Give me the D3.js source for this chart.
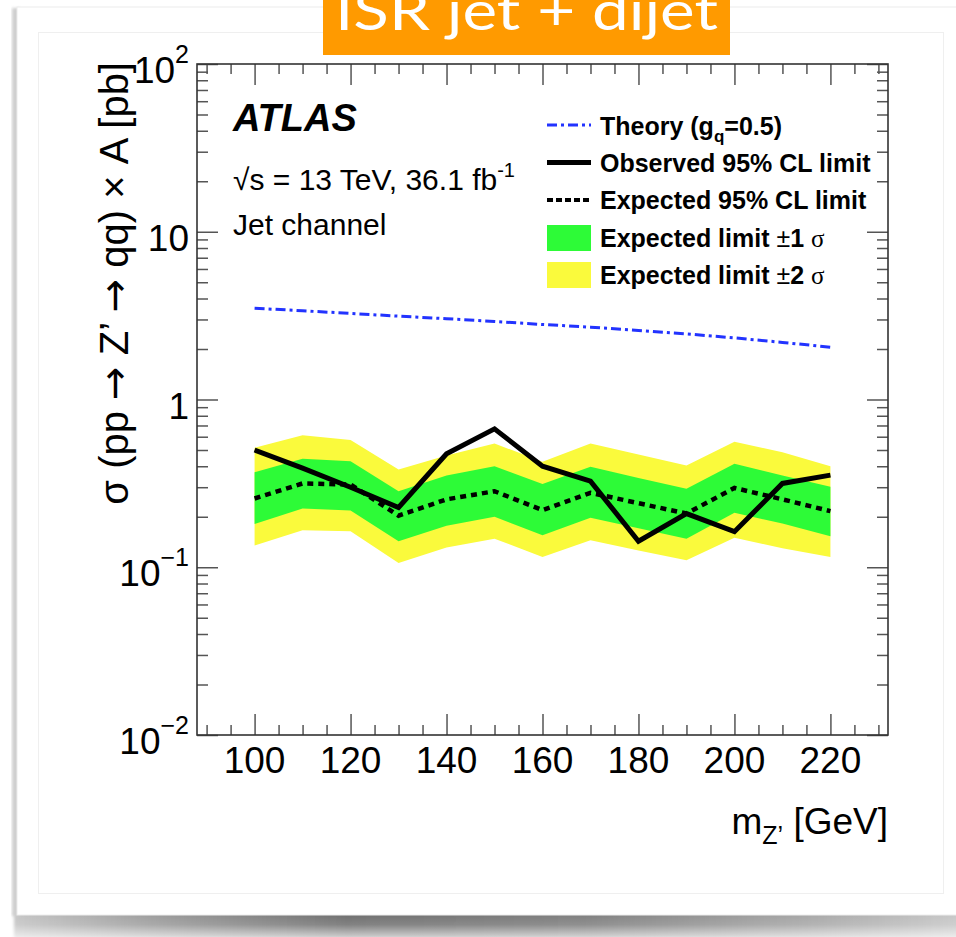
<!DOCTYPE html>
<html>
<head>
<meta charset="utf-8">
<script src="https://cdn.jsdelivr.net/npm/d3@7"></script>
<style>
  body { margin: 0; background: #fff; }
  svg { display: block; }
  text { font-family: "Liberation Sans", Arial, Helvetica, sans-serif; fill: #000; }
</style>
</head>
<body>
<svg id="chart" width="956" height="937"></svg>
<script>
// Z' mass points [GeV]
const mass = [100, 110, 120, 130, 140, 150, 160, 170, 180, 190, 200, 210, 220];
// 95% CL upper limits on sigma x A [pb]
const observed     = [0.500, 0.390, 0.300, 0.227, 0.475, 0.668, 0.400, 0.326, 0.143, 0.209, 0.163, 0.316, 0.354];
const expected     = [0.257, 0.316, 0.311, 0.203, 0.254, 0.284, 0.219, 0.278, 0.241, 0.209, 0.297, 0.254, 0.216];
const oneSigmaUp   = [0.369, 0.443, 0.429, 0.284, 0.352, 0.400, 0.314, 0.397, 0.341, 0.294, 0.414, 0.352, 0.302];
const oneSigmaDown = [0.181, 0.224, 0.218, 0.143, 0.177, 0.200, 0.155, 0.197, 0.171, 0.148, 0.211, 0.182, 0.153];
const twoSigmaUp   = [0.515, 0.613, 0.573, 0.383, 0.464, 0.547, 0.425, 0.547, 0.470, 0.404, 0.560, 0.485, 0.400];
const twoSigmaDown = [0.135, 0.166, 0.164, 0.106, 0.131, 0.148, 0.115, 0.145, 0.126, 0.110, 0.150, 0.130, 0.115];
// Theory prediction for g_q = 0.5
const theory       = [3.50, 3.38, 3.26, 3.14, 3.03, 2.92, 2.80, 2.70, 2.58, 2.46, 2.33, 2.19, 2.05];

// Axis ticks and labels
const xMajorTicks = [100, 120, 140, 160, 180, 200, 220];
const xTickLabels = ["100", "120", "140", "160", "180", "200", "220"];
const xMinorTicks = [90, 95, 105, 110, 115, 125, 130, 135, 145, 150, 155, 165, 170, 175, 185, 190, 195, 205, 210, 215, 225, 230];
const yMajorTicks = [0.01, 0.1, 1, 10, 100];
const yTickBase   = ["10", "10", "1", "10", "10"];
const yTickExp    = ["\u22122", "\u22121", "", "", "2"];

const legendLabels = ["Theory", "Observed 95% CL limit", "Expected 95% CL limit", "Expected limit ", "Expected limit "];
const legendSigma  = ["", "", "", "\u00b11", "\u00b12"];

const svg = d3.select("#chart");
const defs = svg.append("defs");

// ---- slide card with drop shadow ----
const shGrad = defs.append("linearGradient").attr("id", "shadowH").attr("x1", 0).attr("x2", 1).attr("y1", 0).attr("y2", 0);
[[0, "#c4c4c4"], [0.15, "#9a9a9a"], [0.35, "#6c6c6c"], [0.6, "#7c7c7c"], [0.85, "#a8a8a8"], [1, "#c8c8c8"]]
  .forEach(([o, c]) => shGrad.append("stop").attr("offset", o).attr("stop-color", c));
const fadeGrad = defs.append("linearGradient").attr("id", "shadowV").attr("x1", 0).attr("x2", 0).attr("y1", 0).attr("y2", 1);
[[0, "#fff", 0], [0.45, "#fff", 0.15], [1, "#fff", 0.75]]
  .forEach(([o, c, a]) => fadeGrad.append("stop").attr("offset", o).attr("stop-color", c).attr("stop-opacity", a));
defs.append("filter").attr("id", "soft").attr("x", "-5%").attr("y", "-50%").attr("width", "110%").attr("height", "200%")
  .append("feGaussianBlur").attr("stdDeviation", 1.5);

svg.append("rect").attr("x", 14).attr("y", 913).attr("width", 950).attr("height", 26)
  .attr("fill", "url(#shadowH)").attr("filter", "url(#soft)");
svg.append("rect").attr("x", 0).attr("y", 913).attr("width", 956).attr("height", 26)
  .attr("fill", "url(#shadowV)");
svg.append("rect").attr("x", 12).attr("y", 8).attr("width", 8).attr("height", 908)
  .attr("fill", "#cfcfcf").attr("filter", "url(#soft)");
svg.append("rect").attr("x", 17).attr("y", 7).attr("width", 945).attr("height", 908)
  .attr("fill", "#fff").attr("stroke", "#ececec").attr("stroke-width", 1);
svg.append("rect").attr("x", 38.5).attr("y", 32.5).attr("width", 905).attr("height", 861)
  .attr("fill", "#fff").attr("stroke", "#efefef").attr("stroke-width", 1);

// ---- plot frame and scales ----
const plot = { left: 197, right: 888, top: 64, bottom: 735 };
const x = d3.scaleLinear().domain([88, 232]).range([plot.left, plot.right]);
const y = d3.scaleLog().domain([1e-2, 1e2]).range([plot.bottom, plot.top]);

defs.append("clipPath").attr("id", "plotClip").append("rect")
  .attr("x", plot.left).attr("y", plot.top)
  .attr("width", plot.right - plot.left).attr("height", plot.bottom - plot.top);

const pts = mass.map((m, i) => ({
  m, obs: observed[i], exp: expected[i], u1: oneSigmaUp[i], d1: oneSigmaDown[i],
  u2: twoSigmaUp[i], d2: twoSigmaDown[i], th: theory[i]
}));

const data = svg.append("g").attr("clip-path", "url(#plotClip)");

// +-2 sigma and +-1 sigma bands
data.append("path").datum(pts).attr("fill", "#fafa3c")
  .attr("d", d3.area().x(d => x(d.m)).y0(d => y(d.d2)).y1(d => y(d.u2)));
data.append("path").datum(pts).attr("fill", "#2dfb37")
  .attr("d", d3.area().x(d => x(d.m)).y0(d => y(d.d1)).y1(d => y(d.u1)));

// expected limit
data.append("path").datum(pts).attr("fill", "none").attr("stroke", "#000")
  .attr("stroke-width", 4.5).attr("stroke-dasharray", "6,5")
  .attr("d", d3.line().x(d => x(d.m)).y(d => y(d.exp)));
// observed limit
data.append("path").datum(pts).attr("fill", "none").attr("stroke", "#000")
  .attr("stroke-width", 5).attr("stroke-linejoin", "miter")
  .attr("d", d3.line().x(d => x(d.m)).y(d => y(d.obs)));
// theory curve
data.append("path").datum(pts).attr("fill", "none").attr("stroke", "#2233ff")
  .attr("stroke-width", 3).attr("stroke-dasharray", "10,4,3,4")
  .attr("d", d3.line().x(d => x(d.m)).y(d => y(d.th)));

// ---- axes (ticks on all four sides) ----
const yMinorTicks = [];
[0.01, 0.1, 1, 10].forEach(dec => { for (let k = 2; k <= 9; k++) yMinorTicks.push(k * dec); });

function styleAxis(g) {
  g.select(".domain").remove();
  g.selectAll(".tick line").attr("stroke", "#555").attr("stroke-width", 1.5);
}
const axes = svg.append("g");
axes.append("g").attr("transform", `translate(0,${plot.bottom})`)
  .call(d3.axisBottom(x).tickValues(xMajorTicks).tickSize(-21).tickFormat("")).call(styleAxis);
axes.append("g").attr("transform", `translate(0,${plot.bottom})`)
  .call(d3.axisBottom(x).tickValues(xMinorTicks).tickSize(-10).tickFormat("")).call(styleAxis);
axes.append("g").attr("transform", `translate(0,${plot.top})`)
  .call(d3.axisTop(x).tickValues(xMajorTicks).tickSize(-21).tickFormat("")).call(styleAxis);
axes.append("g").attr("transform", `translate(0,${plot.top})`)
  .call(d3.axisTop(x).tickValues(xMinorTicks).tickSize(-10).tickFormat("")).call(styleAxis);
axes.append("g").attr("transform", `translate(${plot.left},0)`)
  .call(d3.axisLeft(y).tickValues(yMajorTicks).tickSize(-21).tickFormat("")).call(styleAxis);
axes.append("g").attr("transform", `translate(${plot.left},0)`)
  .call(d3.axisLeft(y).tickValues(yMinorTicks).tickSize(-11).tickFormat("")).call(styleAxis);
axes.append("g").attr("transform", `translate(${plot.right},0)`)
  .call(d3.axisRight(y).tickValues(yMajorTicks).tickSize(-21).tickFormat("")).call(styleAxis);
axes.append("g").attr("transform", `translate(${plot.right},0)`)
  .call(d3.axisRight(y).tickValues(yMinorTicks).tickSize(-11).tickFormat("")).call(styleAxis);

svg.append("rect").attr("x", plot.left).attr("y", plot.top)
  .attr("width", plot.right - plot.left).attr("height", plot.bottom - plot.top)
  .attr("fill", "none").attr("stroke", "#333").attr("stroke-width", 1.6);

// tick labels
svg.append("g").selectAll("text").data(xMajorTicks).join("text")
  .attr("x", d => x(d)).attr("y", plot.bottom + 38)
  .attr("text-anchor", "middle").attr("font-size", 37)
  .text((d, i) => xTickLabels[i]);

const yLab = svg.append("g").selectAll("text").data(yMajorTicks).join("text")
  .attr("x", 189).attr("y", d => y(d) + 19)
  .attr("text-anchor", "end").attr("font-size", 37);
yLab.append("tspan").text((d, i) => yTickBase[i]);
yLab.append("tspan").attr("font-size", 25).attr("dy", -20).text((d, i) => yTickExp[i]);

// axis titles
const xt = svg.append("text").attr("x", plot.right).attr("y", 834)
  .attr("text-anchor", "end").attr("font-size", 37);
xt.append("tspan").text("m");
xt.append("tspan").attr("font-size", 25).attr("dy", 10).text("Z\u2019");
xt.append("tspan").attr("dy", -10).text(" [GeV]");

const yt = svg.append("text").attr("transform", "translate(128,62) rotate(-90)")
  .attr("text-anchor", "end").attr("font-size", 40);
const arrow = () => yt.append("tspan").style("font-family", "'DejaVu Sans', sans-serif").attr("font-size", 40).text("\u2192");
yt.append("tspan").text("\u03c3 (pp ");
arrow();
yt.append("tspan").text(" Z\u2019 ");
arrow();
yt.append("tspan").text(" qq) \u00d7 A [pb]");

// ---- ATLAS label ----
svg.append("text").attr("x", 233).attr("y", 131).attr("font-size", 38)
  .attr("font-weight", "bold").attr("font-style", "italic").text("ATLAS");
const lumi = svg.append("text").attr("x", 233).attr("y", 190).attr("font-size", 30);
lumi.append("tspan").text("\u221as = 13 TeV, 36.1 fb");
lumi.append("tspan").attr("font-size", 20).attr("dy", -13).text("-1");
svg.append("text").attr("x", 233).attr("y", 235).attr("font-size", 30).text("Jet channel");

// ---- legend ----
const legRows = [125, 162.5, 200, 238, 275];
const leg = svg.append("g");
const sx0 = 547, sx1 = 591, tx = 600;
leg.append("line").attr("x1", sx0).attr("x2", sx1).attr("y1", legRows[0]).attr("y2", legRows[0])
  .attr("stroke", "#2233ff").attr("stroke-width", 3).attr("stroke-dasharray", "10,4,3,4");
leg.append("line").attr("x1", sx0).attr("x2", sx1).attr("y1", legRows[1]).attr("y2", legRows[1])
  .attr("stroke", "#000").attr("stroke-width", 5);
leg.append("line").attr("x1", sx0).attr("x2", sx1).attr("y1", legRows[2]).attr("y2", legRows[2])
  .attr("stroke", "#000").attr("stroke-width", 4).attr("stroke-dasharray", "6,3");
leg.append("rect").attr("x", sx0).attr("y", legRows[3] - 13).attr("width", sx1 - sx0).attr("height", 26)
  .attr("fill", "#2dfb37");
leg.append("rect").attr("x", sx0).attr("y", legRows[4] - 13).attr("width", sx1 - sx0).attr("height", 26)
  .attr("fill", "#fafa3c");

const th = leg.append("text").attr("x", tx).attr("y", legRows[0] + 10)
  .attr("font-size", 25).attr("font-weight", "bold");
th.append("tspan").text(legendLabels[0] + " (g");
th.append("tspan").attr("font-size", 17).attr("dy", 7).text("q");
th.append("tspan").attr("dy", -7).text("=0.5)");
legendLabels.slice(1).forEach((lab, i) => {
  const t = leg.append("text").attr("x", tx).attr("y", legRows[i + 1] + 9)
    .attr("font-size", 25).attr("font-weight", "bold");
  t.append("tspan").text(lab);
  const sig = legendSigma[i + 1];
  if (sig) {
    t.append("tspan").attr("font-weight", "normal").text(sig.charAt(0));
    t.append("tspan").text(sig.slice(1) + " ");
    t.append("tspan").attr("font-weight", "normal")
      .style("font-family", "'Liberation Serif', 'DejaVu Serif', serif").text("\u03c3");
  }
});

// ---- title banner ----
svg.append("rect").attr("x", 323).attr("y", 0).attr("width", 407).attr("height", 55).attr("fill", "#ff9a00");
svg.append("text").attr("x", 335).attr("y", 30).attr("font-size", 54)
  .attr("textLength", 383).attr("lengthAdjust", "spacingAndGlyphs")
  .style("font-family", "Lato, 'Open Sans', sans-serif").style("fill", "#fff")
  .text("ISR jet + dijet");
</script>
</body>
</html>
